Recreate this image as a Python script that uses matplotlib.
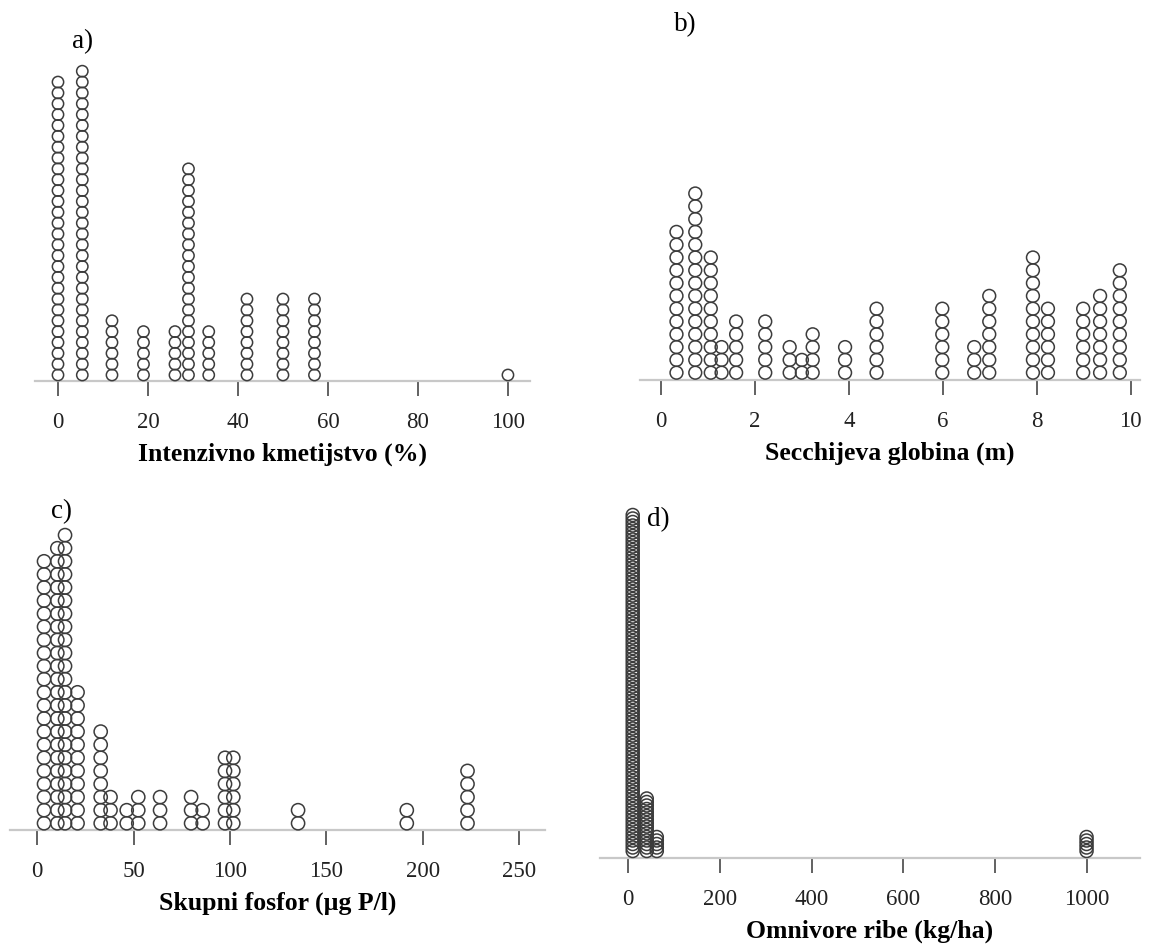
import matplotlib
matplotlib.use("Agg")
import matplotlib.pyplot as plt
import numpy as np

plt.rcParams['font.family'] = ['Liberation Serif', 'DejaVu Serif']

# ---- data: value of each stack and number of observations in it ----
agri_values = [0, 5.4, 12, 19, 26, 29, 33.5, 42, 50, 57, 100]
agri_counts = [28, 29, 6, 5, 5, 20, 5, 8, 8, 8, 1]
agri_ticks = [0, 20, 40, 60, 80, 100]

secchi_values = [0.33, 0.73, 1.06, 1.29, 1.6, 2.22, 2.74, 3.0, 3.23, 3.92,
                 4.59, 5.99, 6.67, 6.99, 7.92, 8.24, 8.99, 9.35, 9.77]
secchi_counts = [12, 15, 10, 3, 5, 5, 3, 2, 4, 3, 6, 6, 3, 7, 10, 6, 6, 7, 9]
secchi_ticks = [0, 2, 4, 6, 8, 10]

tp_values = [3.5, 10.4, 14.4, 20.9, 32.9, 38, 46.4, 52.4, 63.7, 79.8, 85.8,
             97.4, 101.7, 135.3, 191.7, 223.2]
tp_counts = [21, 22, 23, 11, 8, 3, 2, 3, 3, 3, 2, 6, 6, 2, 2, 5]
tp_ticks = [0, 50, 100, 150, 200, 250]

fish_values = [9.8, 40.4, 62.3, 1000]
fish_counts = [97, 16, 5, 5]
fish_ticks = [0, 200, 400, 600, 800, 1000]

W, H = 1153, 947
fig = plt.figure(figsize=(W / 100, H / 100), dpi=100)


def panel(left, right, baseline, top, xlim, values, counts, ticks, xlabel,
          letter, letter_xy, dot_px, step_px, bottom_px):
    ax = fig.add_axes([left / W, 1 - baseline / H, (right - left) / W,
                       (baseline - top) / H])
    ax.set_xlim(*xlim)
    ax.set_ylim(0, baseline - top)
    xs, ys = [], []
    for v, n in zip(values, counts):
        for i in range(n):
            xs.append(v)
            ys.append(bottom_px + i * step_px)
    ax.scatter(xs, ys, s=(dot_px * 0.72) ** 2, facecolors='none',
               edgecolors='#3c3c3c', linewidths=1.1, clip_on=False, zorder=3)
    for s in ('left', 'right', 'top'):
        ax.spines[s].set_visible(False)
    ax.spines['bottom'].set_color('#c8c8c8')
    ax.spines['bottom'].set_linewidth(1.6)
    ax.set_yticks([])
    ax.set_xticks(ticks)
    ax.set_xticklabels([str(t) for t in ticks])
    ax.tick_params(axis='x', direction='out', length=11, width=1.3,
                   color='#555555', labelsize=16.5, labelcolor='#222222',
                   pad=11)
    ax.set_xlabel(xlabel, fontsize=18.5, fontweight='bold', labelpad=7)
    ax.patch.set_alpha(0)
    fig.text(letter_xy[0] / W, 1 - letter_xy[1] / H, letter, fontsize=19.5,
             ha='center', va='center')
    return ax


panel(35, 530, 381, 20, (-5.11, 104.9), agri_values, agri_counts, agri_ticks,
      'Intenzivno kmetijstvo (%)', 'a)', (83, 42), 11.3, 10.85, 6)
panel(640, 1140, 380, 20, (-0.447, 10.2), secchi_values, secchi_counts,
      secchi_ticks, 'Secchijeva globina (m)', 'b)', (685, 25), 12.8, 12.8, 7.3)
panel(10, 545, 830, 470, (-14.15, 263.4), tp_values, tp_counts, tp_ticks,
      'Skupni fosfor (µg P/l)', 'c)', (62, 512), 13.2, 13.1, 6.7)
panel(600, 1140, 858, 470, (-61.6, 1116.6), fish_values, fish_counts,
      fish_ticks, 'Omnivore ribe (kg/ha)', 'd)', (658, 520), 13.0, 3.5, 7)

fig.savefig('out.png', dpi=100)
